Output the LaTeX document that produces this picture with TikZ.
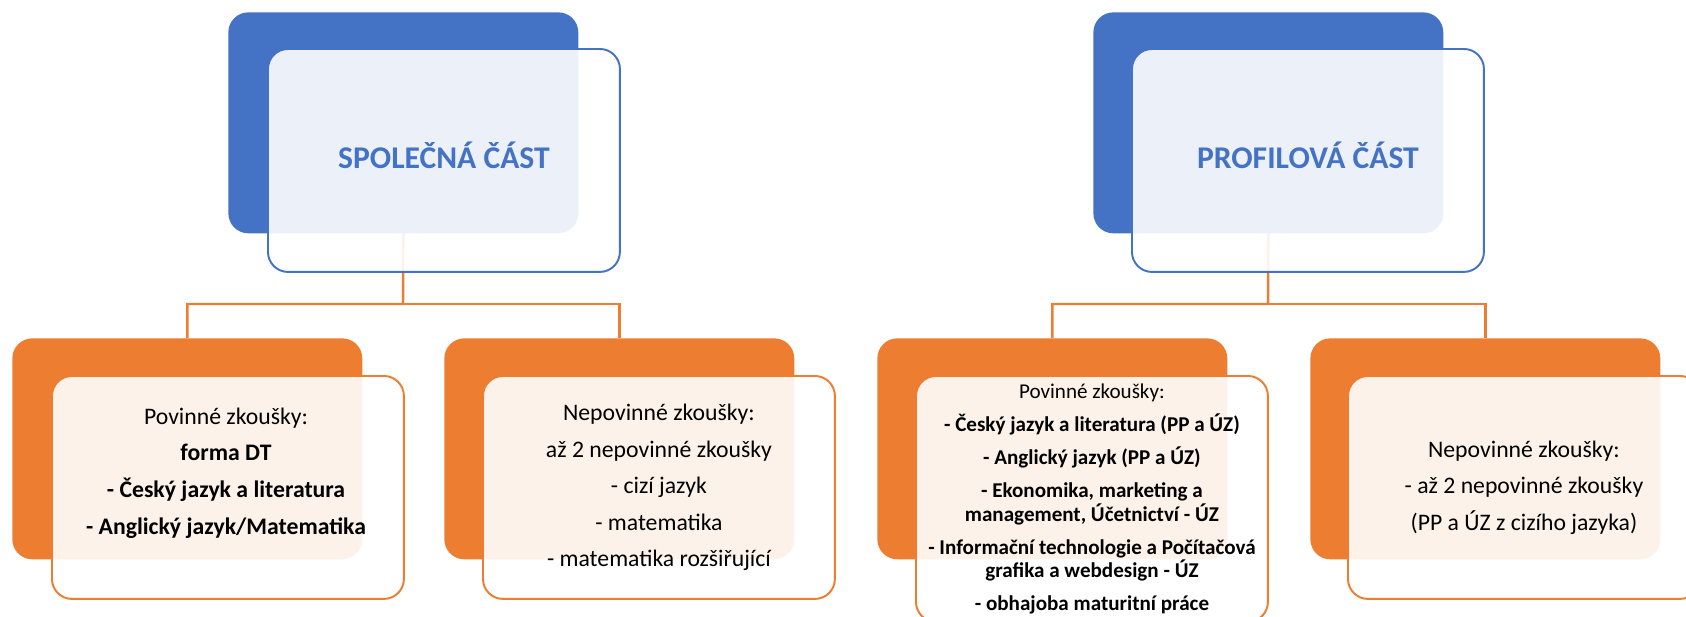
\documentclass[tikz,border=0pt]{standalone}
\usepackage{fontspec}
\setmainfont{Carlito}
\usetikzlibrary{positioning,backgrounds}
\definecolor{accblue}{HTML}{4472C4}
\definecolor{accorange}{HTML}{ED7D31}
\tikzset{
  back/.style={anchor=north west, rounded corners=0.4cm, inner sep=0pt, minimum width=7cm, minimum height=4.42cm},
  front/.style={back, fill=white, fill opacity=0.9, text opacity=1, line width=1.1pt, minimum width=7.04cm, minimum height=4.46cm},
  link/.style={draw=accorange, line width=1.4pt},
  title/.style={text=accblue, font=\fontsize{18}{21}\selectfont\bfseries},
  body/.style={align=center, font=\fontsize{13.5}{20.8}\selectfont},
}

\begin{document}
\begin{tikzpicture}[x=0.02cm, y=-0.02cm]
  \useasboundingbox (0,0) rectangle (1686,616);
  \clip (0,0) rectangle (1686,616);
  % top boxes
  \node[back, fill=accblue] (b1) at (228,12) {};
  \node[front, draw=accblue] (f1) at (267,48) {};
  \node[back, fill=accblue] (b2) at (1093,12) {};
  \node[front, draw=accblue] (f2) at (1131,48) {};
  \node[title] (h1) at ([yshift=0.11cm]f1.center) {SPOLEČNÁ ČÁST};
  \node[title] (h2) at ([yshift=0.11cm]f2.center) {PROFILOVÁ ČÁST};
  % bottom boxes
  \node[back, fill=accorange] (k1) at (12,338) {};
  \node[front, draw=accorange] (g1) at (51,375) {};
  \node[back, fill=accorange] (k2) at (444,338) {};
  \node[front, draw=accorange] (g2) at (482,375) {};
  \node[back, fill=accorange] (k3) at (877,338) {};
  \node[front, draw=accorange, minimum height=4.92cm] (g3) at (915,375) {};
  \node[back, fill=accorange] (k4) at (1310,338) {};
  \node[front, draw=accorange] (g4) at (1347,375) {};
  % texts
  \node[body] (t1) at (226,473) {Povinné zkoušky:\\ \textbf{forma DT}\\ \textbf{- Český jazyk a literatura}\\ \textbf{- Anglický jazyk/Matematika}};
  \node[body] (t2) at (g2.center) {Nepovinné zkoušky:\\ až 2 nepovinné zkoušky\\ - cizí jazyk\\ - matematika\\ - matematika rozšiřující};
  \node[body, font=\fontsize{12}{13.2}\selectfont] (t3) at (g3.center) {Povinné zkoušky:\\[5.6pt]
    \textbf{- Český jazyk a literatura (PP a ÚZ)}\\[5.6pt]
    \textbf{- Anglický jazyk (PP a ÚZ)}\\[5.6pt]
    \textbf{- Ekonomika, marketing a}\\
    \textbf{management, Účetnictví - ÚZ}\\[5.6pt]
    \textbf{- Informační technologie a Počítačová}\\
    \textbf{grafika a webdesign - ÚZ}\\[5.6pt]
    \textbf{- obhajoba maturitní práce}};
  \node[body] (t4) at (g4.center) {Nepovinné zkoušky:\\ - až 2 nepovinné zkoušky\\ (PP a ÚZ z cizího jazyka)};
  % connectors
  \coordinate (m1) at (403,304);
  \coordinate (m2) at (1268,304);
  \begin{scope}[on background layer]
    \draw[link] (b1.south) -- (m1) -| (k1.north);
    \draw[link] (m1) -| (k2.north);
    \draw[link] (b2.south) -- (m2) -| (k3.north);
    \draw[link] (m2) -| (k4.north);
  \end{scope}
\end{tikzpicture}
\end{document}
